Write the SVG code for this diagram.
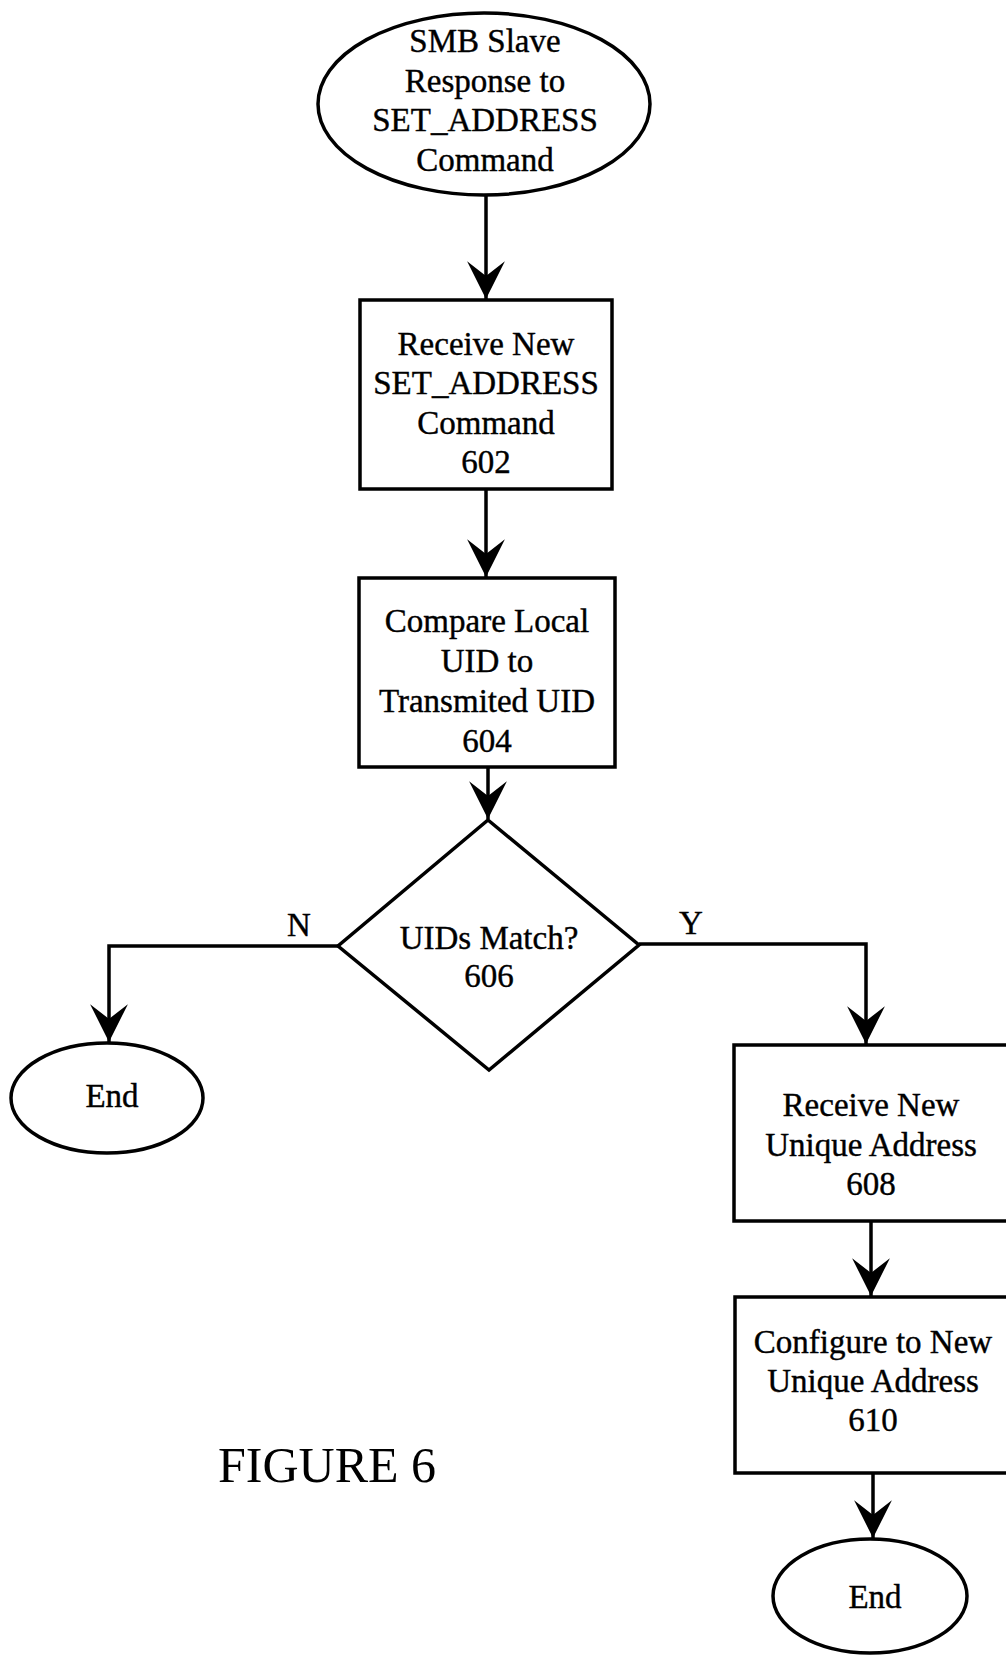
<svg xmlns="http://www.w3.org/2000/svg" width="1006" height="1655" viewBox="0 0 1006 1655">
<style>
.s{fill:none;stroke:#000;stroke-width:3.5}
.t{font-family:"Liberation Serif","Times New Roman",serif;font-size:33px;fill:#000;stroke:#000;stroke-width:0.4;text-anchor:middle}
.c{fill:none;stroke:#000;stroke-width:3.5}
</style>
<defs>
<marker id="ah" markerUnits="userSpaceOnUse" markerWidth="42" markerHeight="42" viewBox="-38 -20 40 40" refX="0" refY="0" orient="auto">
<path d="M0,0 L-36,-18 L-22,0 L-36,18 Z" fill="#000"/>
</marker>
</defs>
<rect width="1006" height="1655" fill="#fff"/>
<g id="start">
<ellipse class="s" cx="484" cy="104" rx="166" ry="91"/>
<text class="t" x="485" y="52">SMB Slave</text>
<text class="t" x="485" y="92">Response to</text>
<text class="t" x="485" y="131">SET_ADDRESS</text>
<text class="t" x="485" y="171">Command</text>
</g>
<g id="n602">
<rect class="s" x="360" y="300" width="252" height="189"/>
<text class="t" x="486" y="355">Receive New</text>
<text class="t" x="486" y="394">SET_ADDRESS</text>
<text class="t" x="486" y="434">Command</text>
<text class="t" x="486" y="473">602</text>
</g>
<g id="n604">
<rect class="s" x="359" y="578" width="256" height="189"/>
<text class="t" x="487" y="632">Compare Local</text>
<text class="t" x="487" y="672">UID to</text>
<text class="t" x="487" y="712">Transmited UID</text>
<text class="t" x="487" y="752">604</text>
</g>
<g id="n606">
<polygon class="s" points="488,820 639,945 489,1070 338,946"/>
<text class="t" x="489" y="949">UIDs Match?</text>
<text class="t" x="489" y="987">606</text>
</g>
<g id="endN">
<ellipse class="s" cx="107" cy="1098" rx="96" ry="55"/>
<text class="t" x="112" y="1107">End</text>
</g>
<g id="n608">
<rect class="s" x="734" y="1045" width="300" height="176"/>
<text class="t" x="871" y="1116">Receive New</text>
<text class="t" x="871" y="1156">Unique Address</text>
<text class="t" x="871" y="1195">608</text>
</g>
<g id="n610">
<rect class="s" x="735" y="1297" width="300" height="176"/>
<text class="t" x="873" y="1353">Configure to New</text>
<text class="t" x="873" y="1392">Unique Address</text>
<text class="t" x="873" y="1431">610</text>
</g>
<g id="endY">
<ellipse class="s" cx="870" cy="1596" rx="97" ry="57"/>
<text class="t" x="875" y="1608">End</text>
</g>
<g id="connectors">
<line class="c" x1="486" y1="195" x2="486" y2="299" marker-end="url(#ah)"/>
<line class="c" x1="486" y1="489" x2="486" y2="577" marker-end="url(#ah)"/>
<line class="c" x1="488" y1="767" x2="488" y2="819" marker-end="url(#ah)"/>
<polyline class="c" points="338,946 109,946 109,1042" marker-end="url(#ah)"/>
<polyline class="c" points="639,944 866,944 866,1044" marker-end="url(#ah)"/>
<line class="c" x1="871" y1="1221" x2="871" y2="1296" marker-end="url(#ah)"/>
<line class="c" x1="873" y1="1473" x2="873" y2="1538" marker-end="url(#ah)"/>
<text class="t" x="299" y="936">N</text>
<text class="t" x="691" y="934">Y</text>
</g>
<text id="caption" x="218" y="1482" style="font-family:'Liberation Serif','Times New Roman',serif;font-size:50px;fill:#000">FIGURE 6</text>
</svg>
